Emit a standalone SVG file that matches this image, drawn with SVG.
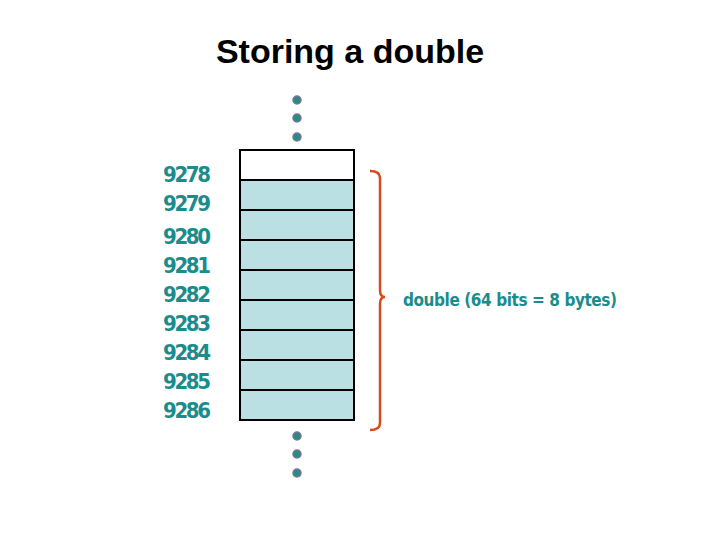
<svg xmlns="http://www.w3.org/2000/svg" width="720" height="540" viewBox="0 0 720 540">
<style>
.lbl{font-family:"DejaVu Sans Condensed","DejaVu Sans",sans-serif;font-weight:bold;font-size:22px;fill:#1a8c8c}
.cell{fill:#bbe0e3;stroke:#000;stroke-width:2}
.dot{fill:#2a8a8a;stroke:#778;stroke-width:1.5}
</style>
<rect width="720" height="540" fill="#fff"/>
<text x="350" y="63" text-anchor="middle" font-family="Liberation Sans,Arial,sans-serif" font-size="34" font-weight="bold">Storing a double</text>
<g id="dots-top"><circle class="dot" cx="297" cy="100" r="4"/><circle class="dot" cx="297" cy="118" r="4"/><circle class="dot" cx="297" cy="137" r="4"/></g>
<g id="dots-bottom"><circle class="dot" cx="297" cy="436" r="4"/><circle class="dot" cx="297" cy="454" r="4"/><circle class="dot" cx="297" cy="473" r="4"/></g>
<g id="memory">
<rect x="240" y="150" width="114" height="30" fill="#fff" stroke="#000" stroke-width="2"/>
<rect class="cell" x="240" y="180" width="114" height="30"/>
<rect class="cell" x="240" y="210" width="114" height="30"/>
<rect class="cell" x="240" y="240" width="114" height="30"/>
<rect class="cell" x="240" y="270" width="114" height="30"/>
<rect class="cell" x="240" y="300" width="114" height="30"/>
<rect class="cell" x="240" y="330" width="114" height="30"/>
<rect class="cell" x="240" y="360" width="114" height="30"/>
<rect class="cell" x="240" y="390" width="114" height="30"/>
</g>
<g id="labels">
<text class="lbl" x="163" y="182" textLength="48">9278</text>
<text class="lbl" x="163" y="211" textLength="48">9279</text>
<text class="lbl" x="163" y="244" textLength="48">9280</text>
<text class="lbl" x="163" y="273" textLength="48">9281</text>
<text class="lbl" x="163" y="302" textLength="48">9282</text>
<text class="lbl" x="163" y="331" textLength="48">9283</text>
<text class="lbl" x="163" y="360" textLength="48">9284</text>
<text class="lbl" x="163" y="389" textLength="48">9285</text>
<text class="lbl" x="163" y="418" textLength="48">9286</text>
</g>
<g id="connectors">
<path d="M370 171 Q380 171 380 178 L380 290 Q380 297 385 297 Q380 297 380 304 L380 423 Q380 430 370 430" fill="none" stroke="#d84a1c" stroke-width="2.5"/>
</g>
<text x="403" y="306" textLength="214" font-family="DejaVu Sans Condensed,DejaVu Sans,sans-serif" font-weight="bold" font-size="17" fill="#1a8c8c">double (64 bits = 8 bytes)</text>
</svg>
